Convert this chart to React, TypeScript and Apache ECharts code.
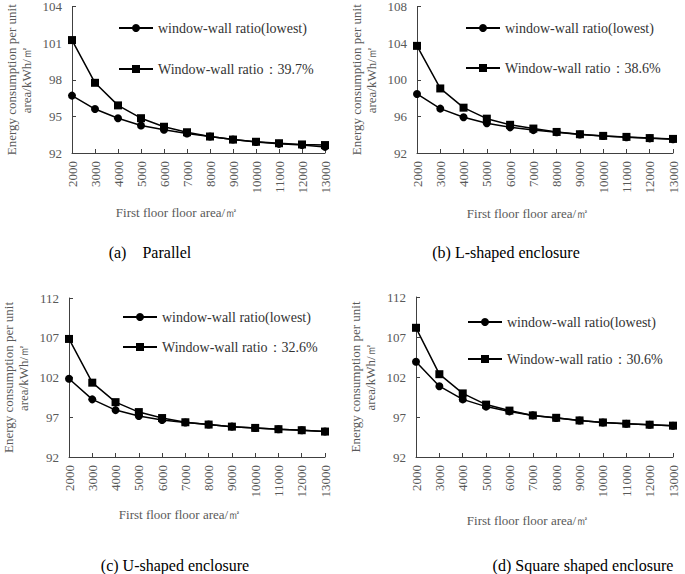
import React, { useEffect, useRef } from "react";
import * as echarts from "echarts";

const categories = ["2000", "3000", "4000", "5000", "6000", "7000", "8000", "9000", "10000", "11000", "12000", "13000"];

const lowestName = "window-wall ratio(lowest)";
const ratioNames = ["Window-wall ratio：39.7%", "Window-wall ratio：38.6%", "Window-wall ratio：32.6%", "Window-wall ratio：30.6%"];

const aLowest = [96.7, 95.6, 94.85, 94.25, 93.9, 93.6, 93.35, 93.1, 92.9, 92.75, 92.65, 92.5];
const aRatio = [101.25, 97.75, 95.9, 94.85, 94.15, 93.7, 93.35, 93.1, 92.92, 92.8, 92.7, 92.65];

const bLowest = [98.45, 96.85, 95.9, 95.25, 94.8, 94.5, 94.27, 94.02, 93.85, 93.72, 93.6, 93.5];
const bRatio = [103.7, 99.05, 96.95, 95.75, 95.08, 94.67, 94.3, 94.05, 93.87, 93.76, 93.63, 93.54];

const cLowest = [101.85, 99.25, 97.9, 97.15, 96.65, 96.35, 96.08, 95.82, 95.65, 95.5, 95.36, 95.2];
const cRatio = [106.85, 101.35, 98.9, 97.65, 96.9, 96.37, 96.08, 95.82, 95.66, 95.5, 95.37, 95.2];

const dLowest = [103.9, 100.85, 99.2, 98.3, 97.7, 97.2, 96.88, 96.56, 96.31, 96.15, 96.03, 95.91];
const dRatio = [108.15, 102.35, 99.95, 98.55, 97.8, 97.2, 96.9, 96.57, 96.32, 96.16, 96.04, 95.92];

const aTicks = [92, 95, 98, 101, 104];
const bTicks = [92, 96, 100, 104, 108];
const cTicks = [92, 97, 102, 107, 112];
const dTicks = [92, 97, 102, 107, 112];

const captions = ["(a)    Parallel", "(b) L-shaped enclosure", "(c) U-shaped enclosure", "(d) Square shaped enclosure"];
const xTitle = "First floor floor area/㎡";
const yTitle = "Energy consumption per unit\narea/kWh/㎡";

const FONT = "Liberation Serif";
const TEXT = "#595959";
const AXIS = "#404040";

export default function App() {
  const ref = useRef<HTMLDivElement>(null);
  useEffect(() => {
    if (!ref.current) return;
    const chart = echarts.init(ref.current, undefined, { renderer: "svg" });

    const grids = [
      { left: 72, right: 360, top: 5, bottom: 421 },
      { left: 417, right: 12, top: 6, bottom: 421 },
      { left: 68, right: 360, top: 298, bottom: 117 },
      { left: 416, right: 12, top: 297, bottom: 117 },
    ];
    const ticks = [aTicks, bTicks, cTicks, dTicks];
    const lows = [aLowest, bLowest, cLowest, dLowest];
    const ratios = [aRatio, bRatio, cRatio, dRatio];
    const legendPos = [
      { left: 118, top: 21, itemGap: 27 },
      { left: 465, top: 21, itemGap: 26 },
      { left: 122, top: 310, itemGap: 16 },
      { left: 467, top: 315, itemGap: 23 },
    ];

    const xAxis = grids.map((_, i) => ({
      type: "category",
      gridIndex: i,
      data: categories,
      boundaryGap: false,
      axisLine: { onZero: false, lineStyle: { color: AXIS, width: 1 } },
      axisTick: { inside: true, length: 4, alignWithLabel: true, lineStyle: { color: AXIS } },
      axisLabel: { rotate: 90, fontSize: 13, color: TEXT, fontFamily: FONT, margin: 8, interval: 0 },
      splitLine: { show: false },
    }));

    const yAxis = grids.map((_, i) => ({
      type: "value",
      gridIndex: i,
      min: ticks[i][0],
      max: ticks[i][ticks[i].length - 1],
      name: yTitle,
      nameLocation: "middle",
      nameGap: 38,
      nameRotate: 90,
      nameTextStyle: { fontSize: 13, color: TEXT, fontFamily: FONT, lineHeight: 15 },
      axisLine: { show: true, lineStyle: { color: AXIS, width: 1 } },
      axisTick: { show: true, inside: true, length: 4, customValues: ticks[i], lineStyle: { color: AXIS } },
      axisLabel: { fontSize: 13, color: TEXT, fontFamily: FONT, margin: 10, customValues: ticks[i] },
      splitLine: { show: false },
    }));

    const series: any[] = [];
    grids.forEach((_, i) => {
      series.push({
        type: "line",
        name: lowestName,
        xAxisIndex: i,
        yAxisIndex: i,
        data: lows[i],
        symbol: "circle",
        symbolSize: 8,
        lineStyle: { color: "#000", width: 1.5 },
        itemStyle: { color: "#000" },
      });
      series.push({
        type: "line",
        name: ratioNames[i],
        xAxisIndex: i,
        yAxisIndex: i,
        data: ratios[i],
        symbol: "rect",
        symbolSize: 8,
        lineStyle: { color: "#000", width: 1.5 },
        itemStyle: { color: "#000" },
      });
    });

    const legend = grids.map((_, i) => ({
      orient: "vertical",
      left: legendPos[i].left,
      top: legendPos[i].top,
      itemGap: legendPos[i].itemGap,
      itemWidth: 34,
      itemHeight: 10,
      padding: 0,
      selectedMode: false,
      data: [lowestName, ratioNames[i]],
      textStyle: { fontSize: 14, color: "#333", fontFamily: FONT },
    }));

    const xTitlePos = [
      { x: 177, y: 212 },
      { x: 528, y: 213 },
      { x: 180, y: 514 },
      { x: 528, y: 520 },
    ];
    const capPos = [
      { x: 150, y: 252 },
      { x: 506, y: 252 },
      { x: 175, y: 565 },
      { x: 583, y: 565 },
    ];
    const graphic: any[] = [];
    xTitlePos.forEach((p) => {
      graphic.push({
        type: "text",
        x: p.x,
        y: p.y,
        style: { text: xTitle, fontSize: 13, fill: TEXT, fontFamily: FONT, align: "center", verticalAlign: "middle" },
      });
    });
    capPos.forEach((p, i) => {
      graphic.push({
        type: "text",
        x: p.x,
        y: p.y,
        style: { text: captions[i], fontSize: 16, fill: "#000", fontFamily: FONT, align: "center", verticalAlign: "middle" },
      });
    });

    chart.setOption({
      animation: false,
      backgroundColor: "#fff",
      textStyle: { fontFamily: FONT },
      grid: grids,
      xAxis,
      yAxis,
      series,
      legend,
      graphic,
    } as any);

    return () => chart.dispose();
  }, []);

  return (
    <div
      ref={ref}
      style={{ position: "absolute", left: 0, top: 0, width: 685, height: 574 }}
    />
  );
}
